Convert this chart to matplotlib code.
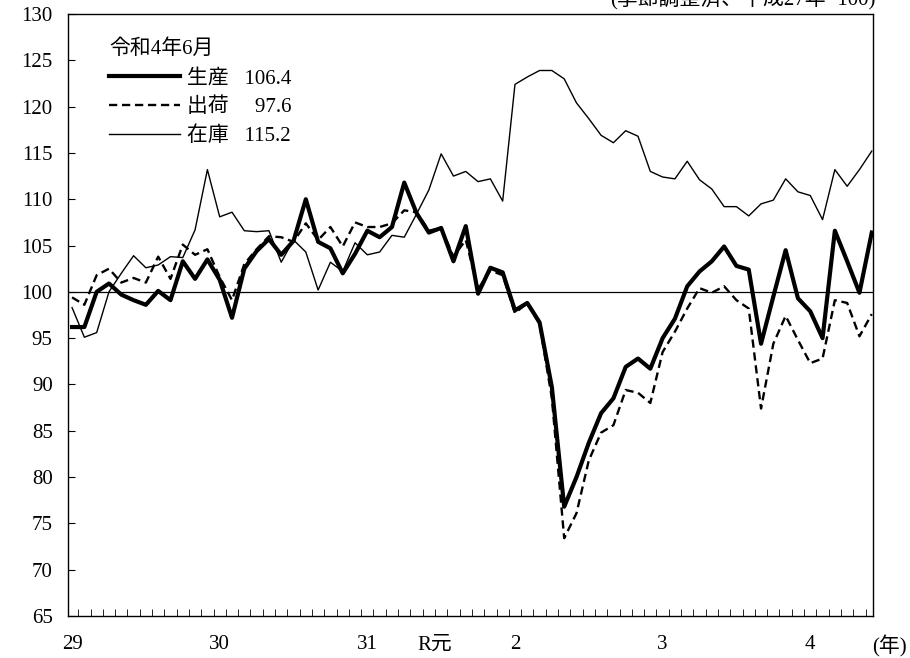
import numpy as np
import matplotlib
matplotlib.use("Agg")
import matplotlib.pyplot as plt

plt.rcParams['font.family'] = ['Liberation Serif', 'Noto Sans CJK JP']

# monthly indices, H29(2017).1 - R4(2022).6
prod = [96.2, 96.2, 100.0, 100.9, 99.7, 99.1, 98.6, 100.1, 99.1, 103.3, 101.4, 103.5,
        101.3, 97.2, 102.5, 104.4, 105.7, 104.0, 105.5, 110.0, 105.4, 104.7, 102.0, 104.1,
        106.6, 105.9, 107.0, 111.8, 108.5, 106.4, 106.9, 103.3, 107.1, 99.8, 102.6, 102.1,
        98.0, 98.8, 96.7, 89.7, 76.8, 80.0, 83.7, 86.9, 88.5, 91.9, 92.8, 91.7,
        95.0, 97.1, 100.6, 102.2, 103.3, 104.9, 102.8, 102.4, 94.4, 99.5, 104.5, 99.3,
        97.9, 95.0, 106.6, 103.3, 99.9, 106.4]
ship = [99.4, 98.6, 101.8, 102.5, 101.0, 101.5, 101.0, 103.8, 101.4, 105.1, 104.0, 104.6,
        101.6, 99.1, 103.0, 104.6, 106.0, 105.9, 105.4, 107.4, 105.6, 107.0, 104.9, 107.5,
        107.0, 107.0, 107.4, 108.8, 108.6, 106.6, 106.9, 103.8, 105.6, 100.3, 102.3, 101.8,
        97.7, 98.8, 96.5, 88.5, 73.4, 76.1, 81.8, 84.8, 85.6, 89.4, 89.1, 88.0,
        93.5, 95.7, 98.2, 100.4, 99.9, 100.6, 99.1, 98.2, 87.4, 94.4, 97.4, 94.8,
        92.3, 92.8, 99.1, 98.8, 95.2, 97.6]
inv = [98.3, 95.1, 95.6, 100.0, 102.0, 103.9, 102.6, 102.9, 103.8, 103.7, 106.7, 113.2,
       108.1, 108.6, 106.6, 106.5, 106.6, 103.2, 105.6, 104.3, 100.2, 103.2, 102.2, 105.3,
       104.0, 104.3, 106.1, 105.9, 108.4, 111.0, 114.9, 112.5, 113.0, 111.9, 112.2, 109.8,
       122.4, 123.2, 123.9, 123.9, 123.0, 120.4, 118.7, 116.9, 116.1, 117.4, 116.8, 113.0,
       112.4, 112.2, 114.1, 112.1, 111.1, 109.2, 109.2, 108.2, 109.5, 109.9, 112.2, 110.8,
       110.4, 107.8, 113.2, 111.4, 113.2, 115.2]

year_pos = [0, 12, 24, 36, 48, 60]
year_labels = ['29', '30', '31', '2', '3', '4']
labels = ['生産', '出荷', '在庫']
latest = ['106.4', '97.6', '115.2']

FS = 15
x = np.arange(len(prod))

fig = plt.figure(figsize=(9.1, 6.58), dpi=100)
ax = fig.add_axes([68/910, 42/658, 805/910, 602/658])

l3, = ax.plot(x, inv, color='black', lw=1.0)
l2, = ax.plot(x, ship, color='black', lw=1.7, dashes=(3.5, 2))
l1, = ax.plot(x, prod, color='black', lw=3.0)
ax.axhline(100, color='black', lw=0.9)

ax.set_xlim(-0.33, 65.1)
ax.set_ylim(65, 130)
ax.set_yticks(np.arange(65, 131, 5))
ax.tick_params(axis='y', direction='in', length=5, labelsize=FS, pad=11)
ax.set_xticks(year_pos)
ax.set_xticklabels(year_labels)
ax.set_xticks(np.arange(0.5, 65, 1), minor=True)
ax.tick_params(axis='x', which='major', length=0, labelsize=FS, pad=14)
ax.tick_params(axis='x', which='minor', direction='in', length=5)
for s in ax.spines.values():
    s.set_linewidth(1.0)

ax.annotate('R元', xy=(29.5, 0), xycoords=('data', 'axes fraction'),
            xytext=(0, -14), textcoords='offset points', ha='center', va='top', fontsize=FS)
ax.annotate('(年)', xy=(66.4, 0), xycoords=('data', 'axes fraction'),
            xytext=(0, -14), textcoords='offset points', ha='center', va='top',
            fontsize=FS, annotation_clip=False)

lab = [labels[0] + '   ' + latest[0],
       labels[1] + '     ' + latest[1],
       labels[2] + '   ' + latest[2]]
leg = ax.legend([l1, l2, l3], lab, title='令和4年6月', loc='upper left',
                bbox_to_anchor=(0.038, 0.975), frameon=False, fontsize=FS,
                title_fontsize=FS, alignment='left', handlelength=3.4,
                handletextpad=0.35, labelspacing=0.45, borderpad=0)

fig.text(0.962, 1.0 + 1/658, '(季節調整済、平成27年=100)', ha='right', va='center', fontsize=FS)

fig.savefig('out.png', dpi=100)
